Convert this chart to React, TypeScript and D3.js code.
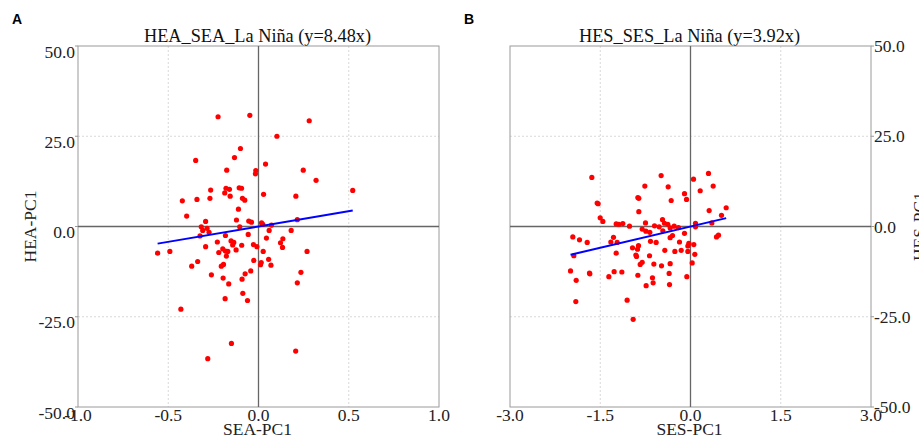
import React from "react";
import * as d3 from "d3";

// Panel A: HEA vs SEA (x = SEA-PC1, y = HEA-PC1)
const seaX = [-0.224,-0.048,0.281,0.102,-0.1,-0.348,-0.133,0.039,-0.176,-0.015,-0.017,0.248,0.319,0.522,-0.265,-0.18,-0.161,-0.187,-0.107,-0.094,-0.157,0.028,0.207,-0.422,-0.341,-0.269,-0.089,-0.076,-0.111,-0.398,-0.122,-0.054,-0.039,-0.293,0.215,0.017,0.024,0.072,-0.317,-0.285,-0.309,-0.274,-0.104,-0.324,-0.183,-0.057,0.059,0.181,0.044,0.135,0.122,-0.228,-0.152,-0.137,-0.143,-0.093,-0.028,-0.009,0.133,-0.293,-0.198,-0.183,-0.17,-0.124,-0.22,-0.178,0.026,0.269,-0.559,-0.491,-0.337,-0.37,-0.026,0.056,0.015,0.011,0.069,-0.194,-0.206,-0.261,-0.074,-0.043,0.235,-0.196,-0.091,-0.165,0.215,-0.087,-0.185,-0.061,-0.43,-0.15,0.206,-0.281];
const heaY = [30.4,30.8,29.3,25.0,21.6,18.3,19.1,17.3,15.6,15.5,14.6,15.6,12.8,10.0,10.1,10.6,10.3,9.3,10.7,10.6,8.4,8.9,8.4,7.1,7.5,7.8,7.8,7.3,4.8,2.9,1.8,1.5,1.2,1.4,1.9,1.0,0.6,0.4,-0.1,-0.5,-1.1,-1.6,-0.1,-2.6,-2.5,-2.2,-1.1,-1.1,-3.2,-3.4,-4.5,-4.3,-4.0,-4.4,-5.1,-5.2,-5.0,-5.6,-5.8,-5.6,-6.2,-6.8,-6.9,-6.5,-7.2,-8.2,-6.9,-6.9,-7.4,-6.9,-9.7,-11.0,-9.4,-9.1,-10.0,-10.6,-10.7,-10.5,-11.0,-13.4,-13.1,-12.3,-12.7,-14.3,-14.6,-15.9,-15.6,-18.5,-20.0,-20.5,-22.9,-32.4,-34.5,-36.6];
const slopeA = 8.48;

// Panel B: HES vs SES (x = SES-PC1, y = HES-PC1)
const sesX = [-1.64,-0.488,0.299,0.05,0.377,-0.759,-0.371,0.161,-0.1,-0.875,-0.859,-0.066,-0.321,-1.551,-1.535,-0.859,0.31,0.593,0.515,-1.501,-1.457,-1.235,-1.191,-1.125,-1.014,-0.748,-0.598,-0.521,-0.465,-0.432,-0.377,-0.338,-0.271,-0.46,0.083,0.355,0.083,-0.803,-0.742,-0.676,-0.1,-0.299,-0.338,-1.956,-1.845,-1.717,-1.28,-1.324,-1.219,-0.665,-0.571,-0.183,-0.028,-0.044,0.055,0.432,0.465,-0.864,-0.964,-0.881,-0.427,-0.26,-0.155,-0.044,0.072,-1.235,-0.908,-0.897,-0.681,-0.338,-0.803,-0.836,-0.609,-0.482,0.028,-1.994,-1.679,-1.673,-1.269,-1.141,-1.357,-0.875,-0.355,-0.632,-0.061,-1.9,-0.621,-0.349,-0.737,-1.906,-1.053,-0.953,-1.939,-0.2];
const hesY = [13.6,14.1,14.7,13.1,11.2,11.2,11.0,9.9,9.1,8.0,7.8,7.5,7.2,6.5,6.3,4.1,4.4,5.2,3.1,2.4,1.4,0.7,0.6,0.8,0.1,1.0,0.2,-0.1,1.9,0.9,0.6,-0.4,0.1,-1.2,0.9,1.0,-0.1,-0.7,-1.3,-1.6,-1.9,-2.5,-3.1,-2.9,-3.7,-4.4,-3.0,-4.3,-4.4,-4.1,-4.4,-4.3,-4.7,-5.4,-5.0,-2.9,-2.4,-5.3,-5.9,-6.3,-6.6,-6.9,-6.6,-6.9,-7.7,-7.4,-7.9,-8.3,-8.1,-10.3,-9.9,-10.5,-10.4,-10.9,-10.1,-12.3,-12.9,-13.1,-12.5,-12.6,-13.9,-13.5,-13.0,-14.2,-13.9,-14.9,-15.6,-16.1,-16.4,-20.8,-20.4,-25.7,-8.1,-0.3];
const slopeB = 3.92;

const xTicksA = [-1.0, -0.5, 0.0, 0.5, 1.0];
const xTicksB = [-3.0, -1.5, 0.0, 1.5, 3.0];
const yTicks = [-50, -25, 0, 25, 50];

const FONT = "'Liberation Serif', 'Times New Roman', serif";

type PanelProps = {
  left: number;
  xs: number[];
  ys: number[];
  slope: number;
  xDomain: [number, number];
  xTicks: number[];
  title: string;
  xLabel: string;
  yLabel: string;
  axisRight: boolean;
  letter: string;
  letterX: number;
};

function Panel(p: PanelProps) {
  const top = 46;
  const bottom = 407;
  const width = 361;
  const x = d3.scaleLinear().domain(p.xDomain).range([p.left, p.left + width]);
  const y = d3.scaleLinear().domain([-50, 50]).range([bottom, top]);
  const xmin = d3.min(p.xs) as number;
  const xmax = d3.max(p.xs) as number;
  const lineGen = d3.line<[number, number]>().x((d) => x(d[0])).y((d) => y(d[1]));
  const lineData: [number, number][] = [
    [xmin, p.slope * xmin],
    [xmax, p.slope * xmax],
  ];
  const gridX = p.xTicks.filter((t) => t !== 0 && t !== p.xDomain[0] && t !== p.xDomain[1]);
  const gridY = yTicks.filter((t) => t !== 0 && Math.abs(t) !== 50);
  const axisX = p.axisRight ? p.left + width : p.left;
  const cx = p.left + width / 2;
  return (
    <g>
      <text x={p.letterX} y={23.5} fontFamily="Arial, 'Liberation Sans', sans-serif" fontWeight="bold" fontSize={14} fill="#000">
        {p.letter}
      </text>
      <text x={cx - 1} y={41.5} textAnchor="middle" fontFamily={FONT} fontSize={18.3} fill="#111">
        {p.title}
      </text>
      {gridX.map((t) => (
        <line key={"gx" + t} x1={x(t)} x2={x(t)} y1={top} y2={bottom} stroke="#cfcfcf" strokeWidth={0.8} strokeDasharray="2,2" />
      ))}
      {gridY.map((t) => (
        <line key={"gy" + t} x1={p.left} x2={p.left + width} y1={y(t)} y2={y(t)} stroke="#cfcfcf" strokeWidth={0.8} strokeDasharray="2,2" />
      ))}
      <rect x={p.left} y={top} width={width} height={bottom - top} fill="none" stroke="#9a9a9a" strokeWidth={1} />
      <line x1={x(0)} x2={x(0)} y1={top} y2={bottom} stroke="#666" strokeWidth={1.3} />
      <line x1={p.left} x2={p.left + width} y1={y(0)} y2={y(0)} stroke="#666" strokeWidth={1.3} />
      {yTicks.map((t) => (
        <g key={"yt" + t}>
          <line x1={axisX} x2={p.axisRight ? axisX + 3 : axisX - 3} y1={y(t)} y2={y(t)} stroke="#9a9a9a" />
          <text
            x={p.axisRight ? axisX + 3 : axisX - 3}
            y={y(t) + (p.axisRight ? 6 : 11.5)}
            textAnchor={p.axisRight ? "start" : "end"}
            fontFamily={FONT}
            fontSize={17.5}
            fill="#222"
          >
            {t.toFixed(1)}
          </text>
        </g>
      ))}
      {p.xTicks.map((t) => (
        <text key={"xt" + t} x={x(t)} y={421} textAnchor="middle" fontFamily={FONT} fontSize={17.5} fill="#222">
          {t.toFixed(1)}
        </text>
      ))}
      <text x={cx - 1} y={435} textAnchor="middle" fontFamily={FONT} fontSize={17.5} fill="#222">
        {p.xLabel}
      </text>
      <text
        transform={`translate(${p.axisRight ? 925 : 36},${y(0)}) rotate(-90)`}
        textAnchor="middle"
        fontFamily={FONT}
        fontSize={17.5}
        fill="#222"
      >
        {p.yLabel}
      </text>
      {p.xs.map((v, i) => (
        <circle key={"pt" + i} cx={x(v)} cy={y(p.ys[i])} r={2.6} fill="#ff0000" />
      ))}
      <path d={lineGen(lineData) || ""} stroke="#0000ff" strokeWidth={2} fill="none" />
    </g>
  );
}

export default function App() {
  return (
    <svg
      width={919}
      height={445}
      style={{ position: "absolute", left: 0, top: 0, background: "#fff" }}
    >
      <rect x={0} y={0} width={919} height={445} fill="#fff" />
      <Panel
        left={78}
        xs={seaX}
        ys={heaY}
        slope={slopeA}
        xDomain={[-1, 1]}
        xTicks={xTicksA}
        title="HEA_SEA_La Niña (y=8.48x)"
        xLabel="SEA-PC1"
        yLabel="HEA-PC1"
        axisRight={false}
        letter="A"
        letterX={12}
      />
      <Panel
        left={510}
        xs={sesX}
        ys={hesY}
        slope={slopeB}
        xDomain={[-3, 3]}
        xTicks={xTicksB}
        title="HES_SES_La Niña (y=3.92x)"
        xLabel="SES-PC1"
        yLabel="HES-PC1"
        axisRight={true}
        letter="B"
        letterX={464}
      />
    </svg>
  );
}
